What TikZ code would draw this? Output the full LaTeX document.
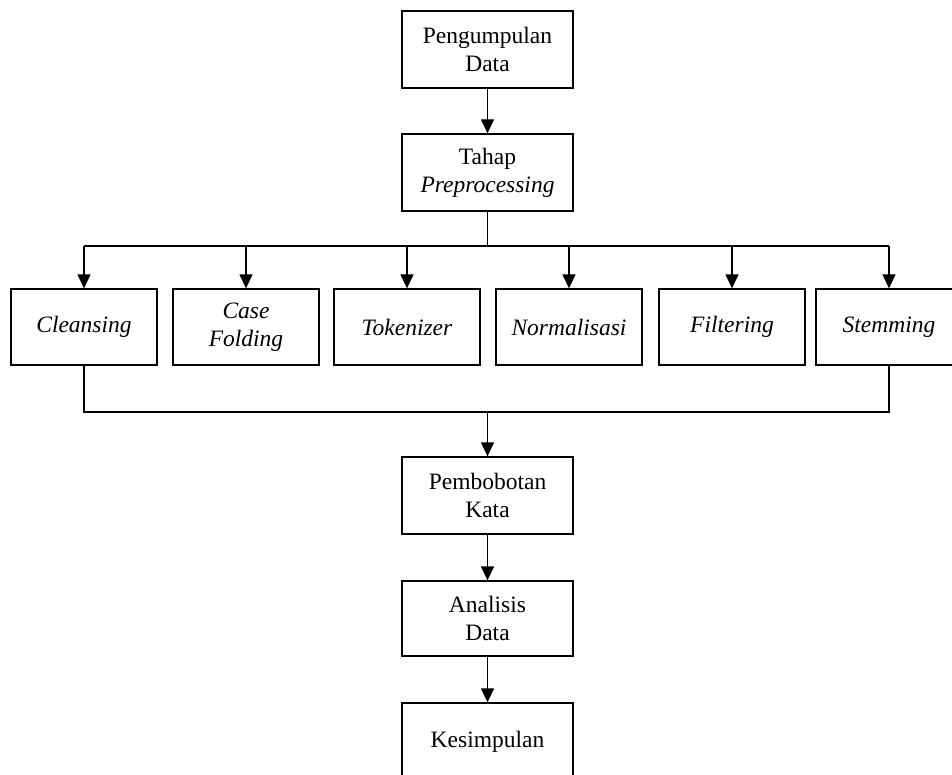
\documentclass[tikz,border=0pt]{standalone}
\usepackage{fontspec}
\setmainfont{Liberation Serif}
\usetikzlibrary{arrows.meta}
\begin{document}
\begin{tikzpicture}[x=1pt,y=-1pt,
  box/.style={draw=black, line width=1.3pt, rectangle, align=center, inner sep=0pt,
    font=\fontsize{23.5}{28}\selectfont},
  mainbox/.style={box, minimum width=171pt, minimum height=77pt},
  subbox/.style={box, minimum width=146pt, minimum height=76pt},
  conn/.style={line width=1.3pt},
  arr/.style={conn, -{Triangle[width=13pt,length=14pt]}}]
\useasboundingbox (0,0) rectangle (952,775);
\clip (0,0) rectangle (952,775);
\node[mainbox] (n1) at (487.5,49.5) {Pengumpulan\\Data};
\node[mainbox] (n2) at (487.5,172.5) {Tahap\\\textit{Preprocessing}};
\node[subbox] (c1) at (84,327) {\textit{Cleansing}};
\node[subbox] (c2) at (246,327) {\textit{Case}\\\textit{Folding}};
\node[subbox] (c3) at (407,327) {\textit{Tokenizer}};
\node[subbox] (c4) at (569,327) {\textit{Normalisasi}};
\node[subbox] (c5) at (732,327) {\textit{Filtering}};
\node[subbox] (c6) at (889,327) {\textit{Stemming}};
\node[mainbox] (p) at (487.5,495.5) {Pembobotan\\Kata};
\node[mainbox, minimum height=75pt] (a) at (487.5,618.5) {Analisis\\Data};
\node[mainbox] (k) at (487.5,741.5) {Kesimpulan};
\coordinate (top) at (487.5,246);
\coordinate (bot) at (487.5,412);
\draw[arr] (n1) -- (n2);
\draw[conn] (n2.south) -- (top);
\draw[conn] (c1.north |- top) -- (c6.north |- top);
\foreach \c in {c1,c2,c3,c4,c5,c6} {
  \draw[arr] (\c.north |- top) -- (\c.north);
}
\draw[conn] (c1.south) |- (bot) -| (c6.south);
\draw[arr] (bot) -- (p.north);
\draw[arr] (p) -- (a);
\draw[arr] (a) -- (k);
\end{tikzpicture}
\end{document}
